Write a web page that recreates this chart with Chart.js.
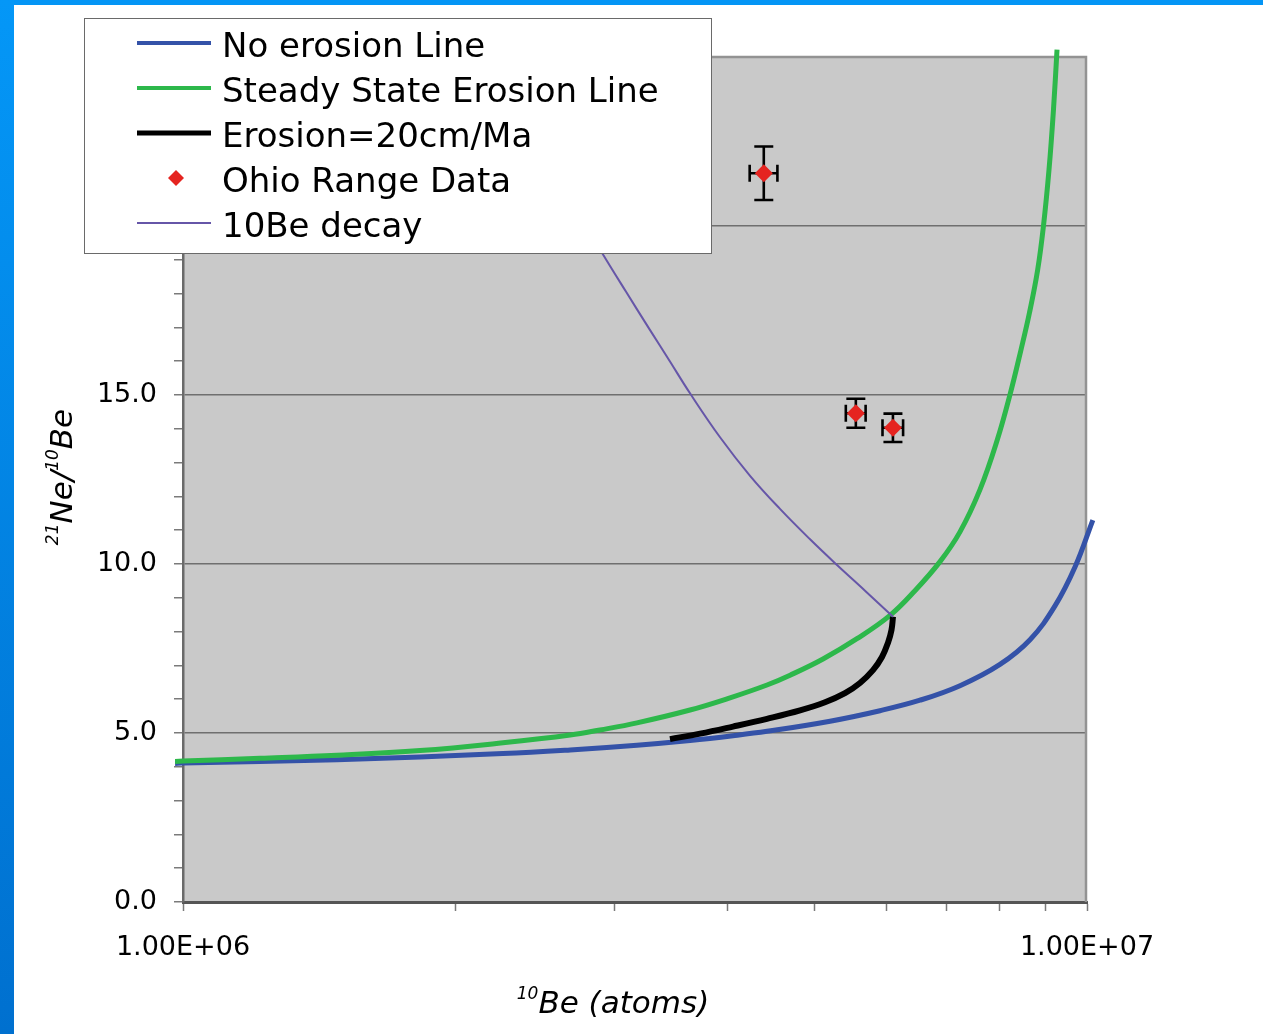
<!DOCTYPE html>
<html>
<head>
<meta charset="utf-8">
<title>21Ne/10Be vs 10Be</title>
<script src="https://cdn.jsdelivr.net/npm/chart.js@4.4.1/dist/chart.umd.min.js"></script>
<style>
  html, body { margin: 0; padding: 0; background: #ffffff; }
  #frame { position: relative; width: 1263px; height: 1034px; overflow: hidden; background: #ffffff; }
  #barTop { position: absolute; left: 0; top: 0; width: 1263px; height: 5px; background: #0495f5; }
  #barLeft { position: absolute; left: 0; top: 0; width: 14px; height: 1034px;
             background: linear-gradient(#0497f7, #0070cf); }
  #c { position: absolute; left: 0; top: 0; }
</style>
</head>
<body>
<div id="frame">
  <div id="barTop"></div>
  <div id="barLeft"></div>
  <canvas id="c" width="1263" height="1034"></canvas>
</div>
<script>
// ---- series values (x = 10Be atoms, y = 21Ne/10Be) ----
const noErosionX = [0.980e6, 1.000e6, 1.480e6, 2.259e6, 2.681e6, 3.178e6, 3.638e6, 4.059e6, 4.426e6,
                    5.197e6, 5.902e6, 6.535e6, 7.236e6, 8.012e6, 8.649e6, 9.217e6, 9.699e6, 10.15e6];
const noErosionY = [4.10, 4.11, 4.21, 4.39, 4.50, 4.64, 4.78, 4.92, 5.05,
                    5.35, 5.66, 5.97, 6.40, 7.03, 7.76, 8.76, 9.91, 11.30];

const steadyX = [0.980e6, 1.000e6, 1.217e6, 1.480e6, 1.829e6, 2.259e6, 2.681e6, 2.893e6, 3.178e6,
                 3.638e6, 4.028e6, 4.426e6, 4.694e6, 5.105e6, 5.566e6, 6.055e6, 6.452e6, 6.877e6,
                 7.236e6, 7.614e6, 7.959e6, 8.219e6, 8.453e6, 8.638e6, 8.820e6, 8.951e6, 9.078e6,
                 9.182e6, 9.265e6];
const steadyY = [4.16, 4.17, 4.25, 4.34, 4.48, 4.71, 4.94, 5.09, 5.30,
                 5.68, 6.04, 6.42, 6.71, 7.19, 7.79, 8.48, 9.21, 10.07,
                 10.95, 12.20, 13.68, 15.01, 16.34, 17.44, 18.71, 20.01, 21.67,
                 23.45, 25.22];

const erosion20X = [3.457e6, 3.732e6, 4.059e6, 4.426e6, 4.815e6, 5.131e6, 5.399e6, 5.609e6,
                    5.798e6, 5.932e6, 6.024e6, 6.078e6, 6.101e6];
const erosion20Y = [4.82, 4.98, 5.19, 5.42, 5.67, 5.91, 6.18, 6.48,
                    6.86, 7.25, 7.67, 8.05, 8.44];

const ohioX    = [4.39e6, 5.55e6, 6.10e6];
const ohioY    = [21.56, 14.46, 14.03];
const ohioXErr = [0.155e6, 0.14e6, 0.16e6];
const ohioYErr = [0.79, 0.43, 0.42];

const decayX = [2.856e6, 2.907e6, 3.090e6, 3.286e6, 3.457e6, 3.638e6, 3.927e6, 4.239e6,
                4.575e6, 4.939e6, 5.290e6, 5.681e6, 6.101e6];
const decayY = [19.57, 19.21, 18.06, 16.92, 15.99, 15.05, 13.75, 12.61,
                11.63, 10.73, 9.97, 9.21, 8.44];

// ---- axis ticks and titles ----
const xTickValues  = [1e6, 2e6, 3e6, 4e6, 5e6, 6e6, 7e6, 8e6, 9e6, 1e7];
const xLabelValues = [1e6, 1e7];
const xTickLabels  = ['1.00E+06', '1.00E+07'];
const yLabelStep   = 5;
const xTitleParts  = [{ text: '10', sup: true }, { text: 'Be (atoms)', sup: false }];
const yTitleParts  = [{ text: '21', sup: true }, { text: 'Ne/', sup: false },
                      { text: '10', sup: true }, { text: 'Be', sup: false }];

const toPoints = (xs, ys) => xs.map((x, i) => ({ x: x, y: ys[i] }));

// gray plot area
const plotBackground = {
  id: 'plotBackground',
  beforeDraw(chart) {
    const { ctx, chartArea: a } = chart;
    ctx.save();
    ctx.fillStyle = '#c9c9c9';
    ctx.fillRect(a.left, a.top, a.right - a.left, a.bottom - a.top);
    ctx.restore();
  }
};

// top and right edges of the plot area
const plotFrame = {
  id: 'plotFrame',
  beforeDatasetsDraw(chart) {
    const { ctx, chartArea: a } = chart;
    ctx.save();
    ctx.strokeStyle = '#939393';
    ctx.lineWidth = 2.5;
    ctx.beginPath();
    ctx.moveTo(a.left, a.top);
    ctx.lineTo(a.right - 1, a.top);
    ctx.lineTo(a.right - 1, a.bottom);
    ctx.stroke();
    ctx.restore();
  }
};

// x and y error bars for datasets carrying errorX / errorY
const errorBars = {
  id: 'errorBars',
  beforeDatasetsDraw(chart) {
    const { ctx } = chart;
    const xs = chart.scales.x, ys = chart.scales.y;
    chart.data.datasets.forEach(ds => {
      if (!ds.errorX || !ds.errorY) return;
      ctx.save();
      ctx.strokeStyle = '#000000';
      ctx.lineWidth = 2.6;
      ds.data.forEach((p, i) => {
        const px = xs.getPixelForValue(p.x);
        const py = ys.getPixelForValue(p.y);
        const xl = xs.getPixelForValue(p.x - ds.errorX[i]);
        const xr = xs.getPixelForValue(p.x + ds.errorX[i]);
        const yt = ys.getPixelForValue(p.y + ds.errorY[i]);
        const yb = ys.getPixelForValue(p.y - ds.errorY[i]);
        const capW = 9.5, capH = 8.5;
        ctx.beginPath();
        ctx.moveTo(px, yt); ctx.lineTo(px, yb);
        ctx.moveTo(px - capW, yt); ctx.lineTo(px + capW, yt);
        ctx.moveTo(px - capW, yb); ctx.lineTo(px + capW, yb);
        ctx.moveTo(xl, py); ctx.lineTo(xr, py);
        ctx.moveTo(xl, py - capH); ctx.lineTo(xl, py + capH);
        ctx.moveTo(xr, py - capH); ctx.lineTo(xr, py + capH);
        ctx.stroke();
      });
      ctx.restore();
    });
  }
};

// boxed legend drawn over the plot
const slideLegend = {
  id: 'slideLegend',
  afterDraw(chart) {
    const { ctx } = chart;
    ctx.save();
    ctx.fillStyle = '#ffffff';
    ctx.fillRect(84.5, 18.5, 627, 235);
    ctx.strokeStyle = '#6a6a6a';
    ctx.lineWidth = 1;
    ctx.strokeRect(84.5, 18.5, 627, 235);
    ctx.font = '34px "DejaVu Sans"';
    ctx.textBaseline = 'alphabetic';
    ctx.textAlign = 'left';
    chart.data.datasets.forEach((ds, i) => {
      const base = 57 + 45 * i;
      const mid = base - 14;
      if (ds.showLine === false) {
        ctx.fillStyle = ds.backgroundColor;
        ctx.beginPath();
        ctx.moveTo(176, mid - 8);
        ctx.lineTo(184, mid);
        ctx.lineTo(176, mid + 8);
        ctx.lineTo(168, mid);
        ctx.closePath();
        ctx.fill();
      } else {
        ctx.strokeStyle = ds.borderColor;
        ctx.lineWidth = Math.max(2, ds.borderWidth - 1);
        ctx.beginPath();
        ctx.moveTo(137, mid);
        ctx.lineTo(211, mid);
        ctx.stroke();
      }
      ctx.fillStyle = '#000000';
      ctx.fillText(ds.label, 222, base);
    });
    ctx.restore();
  }
};

// axis titles with superscript isotope numbers
function drawRich(ctx, parts, cx, baseline) {
  const big = 'oblique 31px "DejaVu Sans"', small = 'oblique 17px "DejaVu Sans"';
  let total = 0;
  const widths = parts.map(p => {
    ctx.font = p.sup ? small : big;
    const w = ctx.measureText(p.text).width;
    total += w;
    return w;
  });
  let x = cx - total / 2;
  parts.forEach((p, i) => {
    ctx.font = p.sup ? small : big;
    ctx.fillText(p.text, x, p.sup ? baseline - 14 : baseline);
    x += widths[i];
  });
}
const axisTitles = {
  id: 'axisTitles',
  afterDraw(chart) {
    const { ctx } = chart;
    ctx.save();
    ctx.fillStyle = '#000000';
    ctx.textBaseline = 'alphabetic';
    ctx.textAlign = 'left';
    drawRich(ctx, xTitleParts, 613, 1013);
    ctx.translate(72, 477);
    ctx.rotate(-Math.PI / 2);
    drawRich(ctx, yTitleParts, 0, 0);
    ctx.restore();
  }
};

const lineStyle = {
  showLine: true, pointRadius: 0, tension: 0.4,
  capBezierPoints: false, clip: false
};

new Chart(document.getElementById('c'), {
  type: 'scatter',
  data: {
    datasets: [
      Object.assign({
        label: 'No erosion Line',
        data: toPoints(noErosionX, noErosionY),
        borderColor: '#3452a8', borderWidth: 5, order: 5
      }, lineStyle),
      Object.assign({
        label: 'Steady State Erosion Line',
        data: toPoints(steadyX, steadyY),
        borderColor: '#2db84b', borderWidth: 5, order: 4
      }, lineStyle),
      Object.assign({
        label: 'Erosion=20cm/Ma',
        data: toPoints(erosion20X, erosion20Y),
        borderColor: '#000000', borderWidth: 6, borderCapStyle: 'butt', order: 3
      }, lineStyle),
      {
        label: 'Ohio Range Data',
        data: toPoints(ohioX, ohioY),
        errorX: ohioXErr, errorY: ohioYErr,
        showLine: false, pointStyle: 'rectRot', pointRadius: 9,
        backgroundColor: '#e52420', borderColor: '#e52420', borderWidth: 0,
        clip: false, order: 1
      },
      Object.assign({
        label: '10Be decay',
        data: toPoints(decayX, decayY),
        borderColor: '#6656a8', borderWidth: 2, order: 2
      }, lineStyle)
    ]
  },
  options: {
    responsive: false,
    animation: false,
    devicePixelRatio: 1,
    layout: { padding: { left: 0, top: 57, right: 176, bottom: 0 } },
    plugins: { legend: { display: false }, tooltip: { enabled: false } },
    scales: {
      x: {
        type: 'logarithmic',
        min: 1e6, max: 1e7,
        afterFit(scale) { scale.height = 132; },
        afterBuildTicks(scale) { scale.ticks = xTickValues.map(v => ({ value: v })); },
        ticks: {
          autoSkip: false, maxRotation: 0, minRotation: 0,
          color: '#000000', padding: 21,
          font: { family: '"DejaVu Sans"', size: 27 },
          callback(value) {
            const k = xLabelValues.findIndex(v => Math.abs(v - value) / v < 1e-9);
            return k >= 0 ? xTickLabels[k] : '';
          }
        },
        grid: { drawOnChartArea: false, tickLength: 9, tickWidth: 1.5, tickColor: '#7a7a7a', color: '#7a7a7a' },
        border: { color: '#555555', width: 3 }
      },
      y: {
        type: 'linear',
        min: 0, max: 25,
        afterFit(scale) { scale.width = 183; },
        ticks: {
          stepSize: 1, autoSkip: false,
          color: '#000000', padding: 17,
          font: { family: '"DejaVu Sans"', size: 27 },
          callback(value) { return value % yLabelStep === 0 ? value.toFixed(1) : ''; }
        },
        grid: {
          color(c) {
            const v = c.tick ? c.tick.value : null;
            return (v !== null && v % yLabelStep === 0 && v > 0 && v < 25) ? '#6f6f6f' : 'rgba(0,0,0,0)';
          },
          lineWidth: 1.5,
          tickColor: '#7a7a7a', tickWidth: 1.5, tickLength: 9
        },
        border: { color: '#6a6a6a', width: 2.5 }
      }
    }
  },
  plugins: [plotBackground, errorBars, plotFrame, slideLegend, axisTitles]
});
</script>
</body>
</html>
